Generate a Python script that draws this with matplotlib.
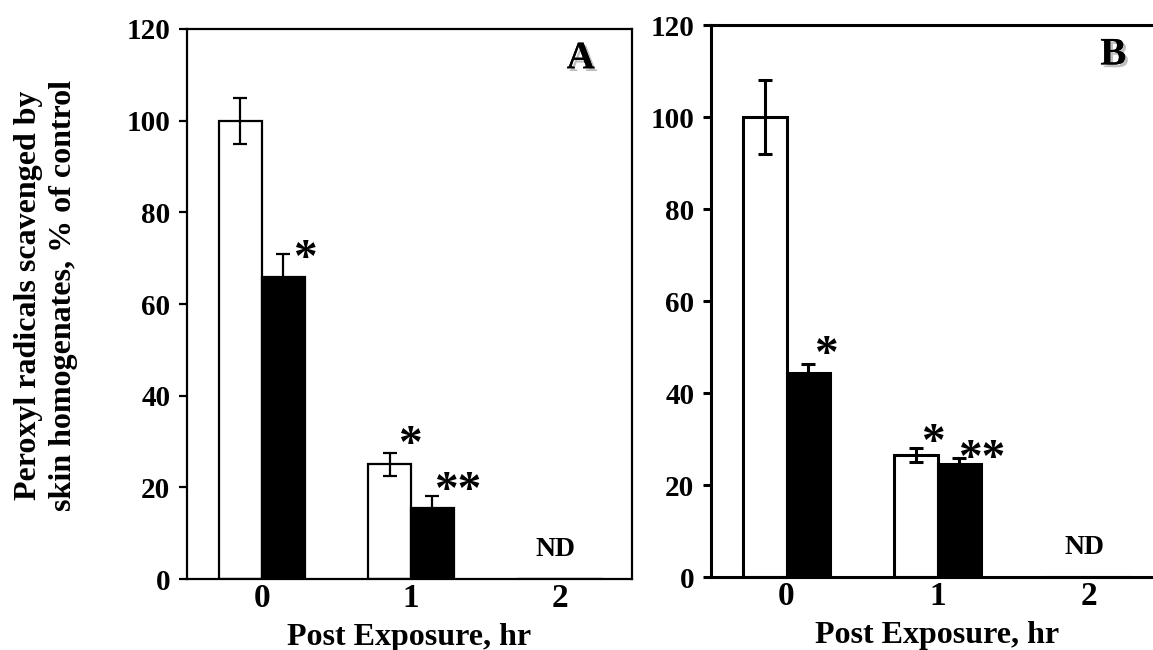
import matplotlib
matplotlib.use('Agg')
import matplotlib.pyplot as plt
import matplotlib.patheffects as pe
import numpy as np

plt.rcParams['font.family'] = ['Liberation Serif', 'DejaVu Serif']
plt.rcParams['font.weight'] = 'bold'
plt.rcParams['axes.labelweight'] = 'bold'

# data
hours = [0, 1, 2]
tick_vals = [0, 20, 40, 60, 80, 100, 120]

# panel A
a_white     = [100.0, 25.0, 0.0]
a_white_err = [5.0, 2.5, 0.0]
a_black     = [66.0, 15.6, 0.0]
a_black_err = [5.0, 2.5, 0.0]

# panel B
b_white     = [100.0, 26.5, 0.0]
b_white_err = [8.0, 1.5, 0.0]
b_black     = [44.3, 24.5, 0.0]
b_black_err = [1.9, 1.4, 0.0]

# significance marks (x, y, text)
a_marks = [(0.29, 69.5, '*'), (0.99, 29.0, '*'), (1.31, 19.0, '**')]
b_marks = [(0.26, 48.0, '*'), (0.97, 29.0, '*'), (1.29, 25.5, '**')]

barW = 0.287


def panel(ax, white, wErr, black, bErr, marks, letter, lw, xmax):
    x = np.array(hours, dtype=float)
    ax.bar(x - barW/2, white, barW, color='white', edgecolor='black', linewidth=lw, zorder=2)
    ax.bar(x + barW/2, black, barW, color='black', edgecolor='black', linewidth=lw, zorder=2)
    ax.errorbar(x[:2] - barW/2, white[:2], yerr=wErr[:2], fmt='none', ecolor='black',
                elinewidth=lw, capsize=5, capthick=lw, zorder=3)
    ax.errorbar(x[:2] + barW/2, black[:2], yerr=bErr[:2], fmt='none', ecolor='black',
                elinewidth=lw, capsize=5, capthick=lw, zorder=3)
    for mx, my, s in marks:
        ax.text(mx, my, s, fontsize=34, ha='center', va='center')
    ax.text(1.97, 6.5, 'ND', fontsize=20, ha='center', va='center')
    t = ax.text(xmax - 0.25, 113.5, letter, fontsize=28, ha='right', va='center')
    t.set_path_effects([pe.withSimplePatchShadow(offset=(2, -2), shadow_rgbFace='gray', alpha=0.5),
                        pe.Normal()])
    ax.set_xlim(-0.5, xmax)
    ax.set_ylim(0, 120)
    ax.set_yticks(tick_vals)
    ax.set_xticks(hours)
    ax.tick_params(axis='y', direction='out', length=6, width=lw, labelsize=21, pad=6)
    ax.tick_params(axis='x', length=0, labelsize=24, pad=3)
    for sp in ax.spines.values():
        sp.set_linewidth(lw)
    ax.set_xlabel('Post Exposure, hr', fontsize=23, labelpad=6)


fig = plt.figure(figsize=(11.53, 6.5), dpi=100)
axA = fig.add_axes([0.1622, 0.1092, 0.3859, 0.8462])
axB = fig.add_axes([0.6167, 0.1123, 0.3929, 0.8492])

panel(axA, a_white, a_white_err, a_black, a_black_err, a_marks, 'A', 1.6, 2.48)
panel(axB, b_white, b_white_err, b_black, b_black_err, b_marks, 'B', 2.2, 2.5)

fig.text(0.040, 0.545, 'Peroxyl radicals scavenged by\nskin homogenates, % of control',
         rotation=90, ha='center', va='center', fontsize=23, linespacing=1.25,
         multialignment='center')

fig.savefig('out.png', dpi=100)
